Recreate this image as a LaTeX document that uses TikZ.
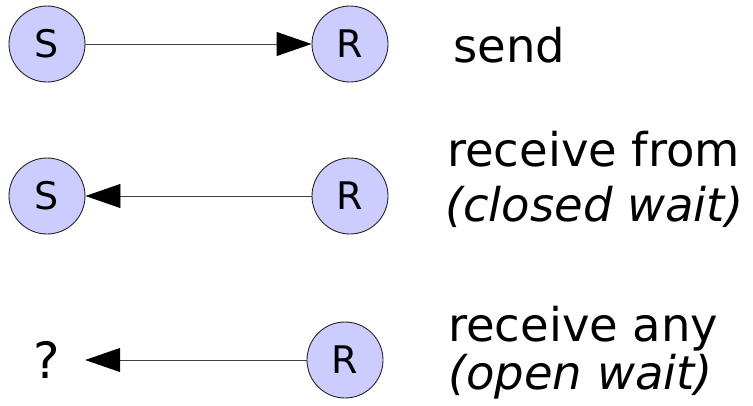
\documentclass[tikz,border=0pt]{standalone}
\usepackage{fontspec}
\setmainfont{DejaVu Sans}
\usetikzlibrary{arrows.meta}
\begin{document}
\begin{tikzpicture}[x=1pt,y=-1pt,
  proc/.style={circle,draw=black!85,line width=0.9pt,fill={rgb,255:red,204;green,204;blue,255},minimum size=76pt,inner sep=0pt,font=\fontsize{38}{44}\selectfont},
  ghost/.style={minimum size=76pt,inner sep=0pt,font=\fontsize{50}{56}\selectfont},
  msg/.style={draw=black!75,line width=0.9pt,-{Triangle[length=35pt,width=24pt,color=black,fill=black]}},
  lbl/.style={anchor=base west,inner sep=0pt,font=\fontsize{46.5}{56}\selectfont}]
\useasboundingbox (0,0) rectangle (753,405);
% row 1
\node[proc] (s1) at (47,44) {S};
\node[proc] (r1) at (350,44) {R};
\draw[msg] (s1) -- (r1);
\node[lbl] (t1) at (453,62) {send};
% row 2
\node[proc] (s2) at (47,196) {S};
\node[proc] (r2) at (350,196) {R};
\draw[msg] (r2) -- (s2);
\node[lbl] (t2) at (447,166) {receive from};
\node[lbl] (t2b) at (445,221) {\itshape (closed wait)};
% row 3
\node[ghost] (q3) at (47,360) {?};
\node[proc] (r3) at (345,360) {R};
\draw[msg] (r3) -- (q3);
\node[lbl] (t3) at (448,341) {receive any};
\node[lbl] (t3b) at (448,389) {\itshape (open wait)};
\end{tikzpicture}
\end{document}
